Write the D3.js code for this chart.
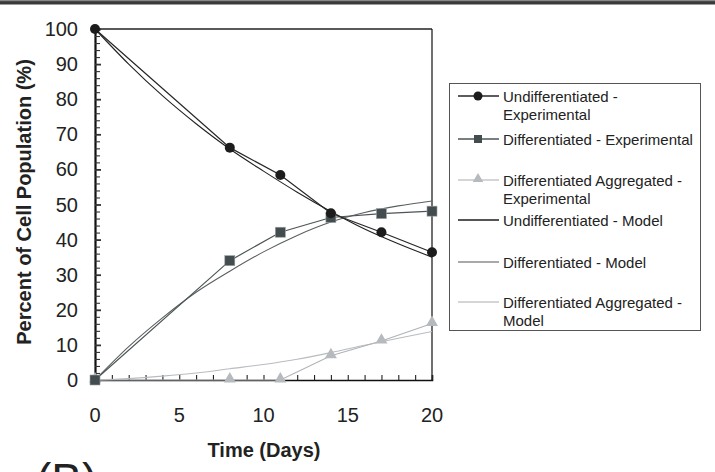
<!DOCTYPE html>
<html><head><meta charset="utf-8">
<script src="https://cdn.jsdelivr.net/npm/d3@7"></script>
<style>
html,body{margin:0;padding:0;background:#fff;}
svg{display:block;font-family:"Liberation Sans",Arial,sans-serif;}
</style></head>
<body><svg id="c" width="715" height="472"></svg>
<script>
// ---- data ----
const expDays = [0, 8, 11, 14, 17, 20];
const undiffExp = [100, 66.2, 58.4, 47.5, 42.1, 36.4];
const diffExp = [0, 34.0, 42.1, 46.3, 47.4, 48.1];
const aggExp = [0, 0, 0, 6.9, 11.1, 16.1];
const modelDays = [0, 2, 4, 6, 8, 10, 12, 14, 16, 18, 20];
const undiffModel = [100, 90, 81, 73, 65.8, 59.5, 53.5, 48, 43, 38.8, 35];
const diffModel = [0, 9.5, 17.7, 25, 31, 36.5, 41.2, 45, 47.7, 49.6, 51];
const aggModel = [0, 0.4, 1.1, 2.0, 3.2, 4.4, 5.9, 7.8, 9.9, 11.9, 13.8];
const xTicks = [0, 5, 10, 15, 20];
const yTicks = [0, 10, 20, 30, 40, 50, 60, 70, 80, 90, 100];
const legendLabels = [
  ["Undifferentiated -", "Experimental"],
  ["Differentiated - Experimental"],
  ["Differentiated Aggregated -", "Experimental"],
  ["Undifferentiated - Model"],
  ["Differentiated - Model"],
  ["Differentiated Aggregated -", "Model"]
];

const svg = d3.select("#c");
const x = d3.scaleLinear().domain([0, 20]).range([95, 432]);
const y = d3.scaleLinear().domain([0, 100]).range([380, 29]);

// top bar
svg.append("rect").attr("x",0).attr("y",0).attr("width",715).attr("height",4.5).attr("fill","#3a3a3a");
svg.append("rect").attr("x",0).attr("y",0).attr("width",715).attr("height",1.2).attr("fill","#888");

const C = {
  und: "#1c1c1c", undLine: "#262626",
  dif: "#434d4f", difLine: "#4c5557",
  agg: "#b6babe", aggLine: "#b0b4b8",
  difModel: "#5a5f61", aggModel: "#b8bcc0"
};

// frame top & right
svg.append("line").attr("x1",x(0)).attr("x2",x(20)).attr("y1",y(100)).attr("y2",y(100)).attr("stroke","#222").attr("stroke-width",1.3);
svg.append("line").attr("x1",x(20)).attr("x2",x(20)).attr("y1",y(100)).attr("y2",y(0)).attr("stroke","#222").attr("stroke-width",1.3);

// axes
const yAxis = d3.axisRight(y).tickValues(d3.range(0, 101, 2)).tickSize(5).tickFormat("");
const gy = svg.append("g").attr("transform",`translate(${x(0)},0)`).call(yAxis);
gy.select(".domain").attr("stroke","#111").attr("stroke-width",2.2);
gy.selectAll(".tick line").attr("stroke","#333").attr("stroke-width",d => d%10===0?1.8:1.1).attr("x2", d => d%10===0?6:5);

const xAxis = d3.axisTop(x).tickValues(d3.range(0, 21, 1)).tickSize(5).tickFormat("");
const gx = svg.append("g").attr("transform",`translate(0,${y(0)})`).call(xAxis);
gx.select(".domain").attr("stroke","#111").attr("stroke-width",1.6);
gx.selectAll(".tick line").attr("stroke","#222").attr("stroke-width",1.1);

// tick labels
svg.append("g").selectAll("text").data(yTicks).join("text")
  .attr("x",78).attr("y",d=>y(d)+7).attr("text-anchor","end")
  .attr("font-size",20).attr("fill","#222").text(d=>d);
svg.append("g").selectAll("text").data(xTicks).join("text")
  .attr("x",d=>x(d)).attr("y",422).attr("text-anchor","middle")
  .attr("font-size",20).attr("fill","#222").text(d=>d);

// axis titles
svg.append("text").attr("x",264).attr("y",457).attr("text-anchor","middle")
  .attr("font-size",20).attr("font-weight","bold").attr("fill","#222").text("Time (Days)");
svg.append("text").attr("transform","translate(31,202) rotate(-90)").attr("text-anchor","middle")
  .attr("font-size",20).attr("font-weight","bold").attr("fill","#222").text("Percent of Cell Population (%)");

// panel label
svg.append("text").attr("x",36).attr("y",496).attr("font-size",46).attr("fill","#222").text("(B)");

// lines
const line = d3.line().x(d=>x(d[0])).y(d=>y(d[1]));
const smooth = d3.line().x(d=>x(d[0])).y(d=>y(d[1])).curve(d3.curveMonotoneX);
const zip = (a,b)=>a.map((v,i)=>[v,b[i]]);

svg.append("path").datum(zip(modelDays,aggModel)).attr("d",smooth).attr("fill","none").attr("stroke",C.aggModel).attr("stroke-width",1.1);
svg.append("path").datum(zip(modelDays,diffModel)).attr("d",smooth).attr("fill","none").attr("stroke",C.difModel).attr("stroke-width",1.1);
svg.append("path").datum(zip(modelDays,undiffModel)).attr("d",smooth).attr("fill","none").attr("stroke","#222").attr("stroke-width",1.1);

svg.append("path").datum(zip(expDays,aggExp)).attr("d",line).attr("fill","none").attr("stroke",C.aggLine).attr("stroke-width",1.2);
svg.append("path").datum(zip(expDays,diffExp)).attr("d",line).attr("fill","none").attr("stroke",C.difLine).attr("stroke-width",1.2);
svg.append("path").datum(zip(expDays,undiffExp)).attr("d",line).attr("fill","none").attr("stroke",C.undLine).attr("stroke-width",1.2);

const tri = d3.symbol().type(d3.symbolTriangle).size(62);
svg.append("g").selectAll("path").data(zip(expDays,aggExp)).join("path")
  .attr("transform",d=>`translate(${x(d[0])},${y(d[1])-1})`).attr("d",tri).attr("fill",C.agg);
svg.append("g").selectAll("rect").data(zip(expDays,diffExp)).join("rect")
  .attr("x",d=>x(d[0])-5).attr("y",d=>y(d[1])-5).attr("width",10).attr("height",10)
  .attr("fill",C.dif).attr("stroke","#9aa0a2").attr("stroke-width",0.6);
svg.append("g").selectAll("circle").data(zip(expDays,undiffExp)).join("circle")
  .attr("cx",d=>x(d[0])).attr("cy",d=>y(d[1])).attr("r",5).attr("fill",C.und);

// legend
const lg = svg.append("g");
lg.append("rect").attr("x",449.5).attr("y",83.5).attr("width",251).attr("height",247).attr("fill","#fff").attr("stroke","#555").attr("stroke-width",1);
const rowY = [96, 139, 180, 220, 262, 302];
const lineCol = [C.undLine, C.difLine, "#c4c7ca", "#1c1c1c", "#8a8d8f", "#c4c7ca"];
legendLabels.forEach((lab,i)=>{
  const ly = rowY[i];
  lg.append("line").attr("x1",458).attr("x2",499).attr("y1",ly).attr("y2",ly).attr("stroke",lineCol[i]).attr("stroke-width",1.3);
  if(i===0) lg.append("circle").attr("cx",478).attr("cy",ly).attr("r",4.5).attr("fill",C.und);
  if(i===1) lg.append("rect").attr("x",474).attr("y",ly-4).attr("width",8).attr("height",8).attr("fill",C.dif);
  if(i===2) lg.append("path").attr("transform",`translate(478,${ly-1})`).attr("d",d3.symbol().type(d3.symbolTriangle).size(48)).attr("fill",C.agg);
  lab.forEach((t,j)=>{
    lg.append("text").attr("x",503).attr("y",ly+6+j*17.5).attr("font-size",15).attr("fill","#222").text(t);
  });
});
</script></body></html>
